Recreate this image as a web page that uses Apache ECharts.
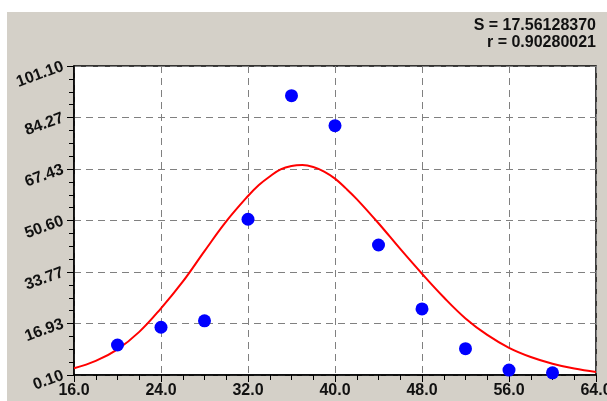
<!DOCTYPE html>
<html>
<head>
<meta charset="utf-8">
<script src="https://cdn.jsdelivr.net/npm/echarts@6/dist/echarts.min.js"></script>
<style>
  html, body { margin: 0; padding: 0; background: #ffffff; }
  #wrap { position: relative; width: 607px; height: 401px; background: #ffffff; overflow: hidden; }
  #chart { position: absolute; left: 7px; top: 12px; width: 600px; height: 389px; background: #d4d0c8; }
</style>
</head>
<body>
<div id="wrap"><div id="chart"></div></div>
<script>
// Observed data points
const pointX = [20, 24, 28, 32, 36, 40, 44, 48, 52, 56, 60];
const pointY = [9.9, 15.7, 17.8, 51.0, 91.4, 81.6, 42.6, 21.7, 8.7, 1.7, 0.8];

// Fitted curve samples (denser around the peak)
const curveX = [16, 18, 20, 22, 24, 26, 28, 30, 32, 33, 34, 35, 36, 37, 38, 39, 40, 41, 42, 44, 46, 48, 50, 52, 54, 56, 58, 60, 62, 64];
const curveY = [2.3, 4.7, 8.5, 14.2, 21.9, 30.6, 40.6, 50.3, 58.6, 62.2, 65.0, 67.3, 68.4, 68.7, 68.1, 66.6, 64.3, 61.1, 57.6, 49.7, 41.3, 33.2, 25.5, 18.6, 13.2, 9.0, 6.0, 3.8, 2.2, 1.1];

// Axis tick labels
const yTickLabels = ['0.10', '16.93', '33.77', '50.60', '67.43', '84.27', '101.10'];
const xTickLabels = ['16.0', '24.0', '32.0', '40.0', '48.0', '56.0', '64.0'];

// Fit statistics
const statLines = ['S = 17.56128370', 'r = 0.90280021'];

const FONT = '"Liberation Sans", Arial, sans-serif';
const gridDash = { color: '#808080', width: 1, type: [7, 5] };

const chart = echarts.init(document.getElementById('chart'), null, { renderer: 'canvas' });

chart.setOption({
  backgroundColor: 'transparent',
  animation: false,
  grid: {
    left: 67, top: 54, right: 11, bottom: 26,
    containLabel: false, outerBoundsMode: 'none',
    show: true, backgroundColor: '#ffffff', borderColor: '#000000', borderWidth: 1.5
  },
  xAxis: {
    type: 'value', min: 16, max: 64, interval: 8,
    axisLine: { show: true, lineStyle: { color: '#000000', width: 1.5 } },
    axisTick: { show: true, inside: false, length: 7, lineStyle: { color: '#000000', width: 1 } },
    minorTick: { show: true, splitNumber: 4, length: 5, lineStyle: { color: '#000000', width: 1 } },
    splitLine: { show: true, lineStyle: gridDash },
    axisLabel: {
      margin: 8, fontFamily: FONT, fontWeight: 'bold', fontSize: 16, color: '#111111',
      formatter: (v, i) => xTickLabels[i]
    }
  },
  yAxis: [
    {
      // tick/label axis, evenly divided into six steps
      type: 'value', min: 0, max: 101, interval: 101 / 6,
      axisLine: { show: true, lineStyle: { color: '#000000', width: 1.5 } },
      axisTick: { show: true, inside: false, length: 7, lineStyle: { color: '#000000', width: 1 } },
      minorTick: { show: true, splitNumber: 4, length: 5, lineStyle: { color: '#000000', width: 1 } },
      splitLine: { show: true, lineStyle: gridDash },
      axisLabel: {
        margin: 11, rotate: 20, fontFamily: FONT, fontWeight: 'bold', fontSize: 16, color: '#111111',
        formatter: (v, i) => yTickLabels[i]
      }
    },
    {
      // data axis spanning the labelled range
      type: 'value', min: 0.1, max: 101.1, show: false,
      splitLine: { show: false }
    }
  ],
  graphic: statLines.map((t, i) => ({
    type: 'text', right: 11, top: 6 + i * 17, z: 10,
    style: { text: t, font: 'bold 16px ' + FONT, fill: '#111111', textAlign: 'right' }
  })),
  series: [
    {
      type: 'line', yAxisIndex: 1, smooth: 0.4, showSymbol: false, z: 2,
      lineStyle: { color: '#ff0000', width: 2 },
      data: curveX.map((x, i) => [x, curveY[i]])
    },
    {
      type: 'scatter', yAxisIndex: 1, symbol: 'circle', symbolSize: 13, z: 3,
      itemStyle: { color: '#0000ff', opacity: 1 },
      data: pointX.map((x, i) => [x, pointY[i]])
    }
  ]
});
</script>
</body>
</html>
